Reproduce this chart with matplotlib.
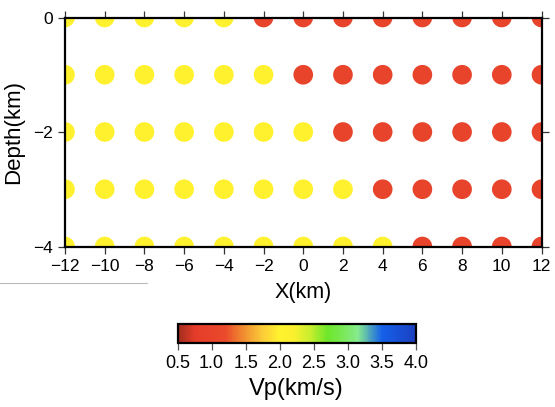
import numpy as np
import matplotlib
matplotlib.use("Agg")
import matplotlib.pyplot as plt
from matplotlib.colors import LinearSegmentedColormap, Normalize
from matplotlib.lines import Line2D

plt.rcParams['font.family'] = ['Liberation Sans', 'DejaVu Sans']

x_km = [-12, -10, -8, -6, -4, -2, 0, 2, 4, 6, 8, 10, 12]
depths = [0, -1, -2, -3, -4]
# Vp (km/s) at each grid node, one list per depth row
vp_d0 = [2.0, 2.0, 2.0, 2.0, 2.0, 1.0, 1.0, 1.0, 1.0, 1.0, 1.0, 1.0, 1.0]
vp_d1 = [2.0, 2.0, 2.0, 2.0, 2.0, 2.0, 1.0, 1.0, 1.0, 1.0, 1.0, 1.0, 1.0]
vp_d2 = [2.0, 2.0, 2.0, 2.0, 2.0, 2.0, 2.0, 1.0, 1.0, 1.0, 1.0, 1.0, 1.0]
vp_d3 = [2.0, 2.0, 2.0, 2.0, 2.0, 2.0, 2.0, 2.0, 1.0, 1.0, 1.0, 1.0, 1.0]
vp_d4 = [2.0, 2.0, 2.0, 2.0, 2.0, 2.0, 2.0, 2.0, 2.0, 1.0, 1.0, 1.0, 1.0]
vp_rows = [vp_d0, vp_d1, vp_d2, vp_d3, vp_d4]
cbar_ticks = [0.5, 1.0, 1.5, 2.0, 2.5, 3.0, 3.5, 4.0]

vmin, vmax = 0.5, 4.0
anchors = [(0.5, '#a02c1e'), (0.75, '#e43c29'), (1.0, '#e8432b'), (1.2, '#ea4a2b'),
           (1.45, '#f08a30'), (1.75, '#fccc38'), (2.0, '#fff22e'), (2.2, '#fbf02e'),
           (2.45, '#c8ee2e'), (2.7, '#6ee62a'), (2.9, '#78e850'), (3.15, '#86ea8e'),
           (3.5, '#1460ea'), (4.0, '#1c40c0')]
cmap = LinearSegmentedColormap.from_list(
    'vp', [((v - vmin) / (vmax - vmin), c) for v, c in anchors])
norm = Normalize(vmin, vmax)

fig = plt.figure(figsize=(5.55, 4.07), dpi=100)
W, H = 555, 407
ax = fig.add_axes([65 / W, 1 - 246.5 / H, (541.5 - 65) / W, (246.5 - 17.5) / H])

for d, row in zip(depths, vp_rows):
    ax.scatter(x_km, [d] * len(x_km), c=row, cmap=cmap, norm=norm, s=200,
               linewidths=0, zorder=2)

ax.set_xlim(-12, 12)
ax.set_ylim(-4, 0)
ax.set_xticks(range(-12, 13, 2))
ax.set_yticks([0, -2, -4])
ax.set_xticklabels([str(v).replace('-', '\u2212') for v in range(-12, 13, 2)])
ax.set_yticklabels(['0', '\u22122', '\u22124'])
ax.tick_params(direction='out', length=5, width=0.9, labelsize=12.5, top=True, right=True,
               color='#333333', pad=4)
for s in ax.spines.values():
    s.set_linewidth(1.6)
ax.set_xlabel('X(km)', fontsize=15.5, labelpad=6)
ax.set_ylabel('Depth(km)', fontsize=16, labelpad=6)

cax = fig.add_axes([177.5 / W, 1 - 342.5 / H, (416 - 177.5) / W, (342.5 - 323.5) / H])
sm = matplotlib.cm.ScalarMappable(norm=norm, cmap=cmap)
cb = fig.colorbar(sm, cax=cax, orientation='horizontal', ticks=cbar_ticks)
cb.outline.set_linewidth(1.6)
cb.ax.tick_params(direction='out', length=5, width=0.9, labelsize=13, color='#555555', pad=4)
cb.set_ticklabels(['%.1f' % t for t in cbar_ticks])
cb.set_label('Vp(km/s)', fontsize=17, labelpad=4)

fig.add_artist(Line2D([0 / W, 147 / W], [1 - 283 / H, 1 - 283 / H], color='#bbbbbb',
                      linewidth=0.8, transform=fig.transFigure))

fig.savefig('out.png', dpi=100)
